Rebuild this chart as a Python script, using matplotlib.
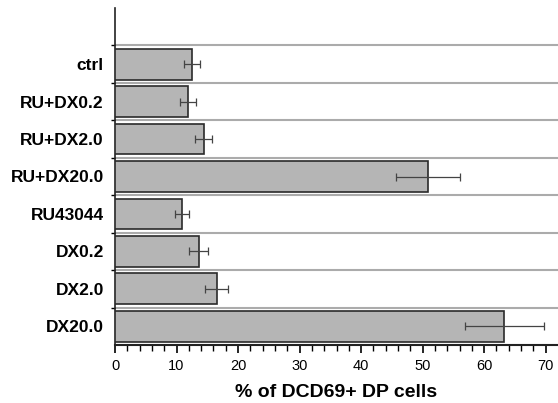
import matplotlib
matplotlib.use("Agg")
import matplotlib.pyplot as plt
import numpy as np

plt.rcParams['font.family'] = ['Liberation Sans', 'DejaVu Sans']

categories = ["ctrl", "RU+DX0.2", "RU+DX2.0", "RU+DX20.0", "RU43044", "DX0.2", "DX2.0", "DX20.0"]
values = [12.5, 11.8, 14.4, 50.9, 10.9, 13.6, 16.5, 63.3]
errors = [1.3, 1.3, 1.4, 5.2, 1.2, 1.5, 1.8, 6.4]
xticks = [0, 10, 20, 30, 40, 50, 60, 70]

fig = plt.figure(figsize=(5.58, 4.03), dpi=100)
ax = fig.add_axes([115/558, 1-345/403, 443/558, 337/403])

n = len(categories)
ypos = np.arange(n)[::-1]  # ctrl at top

ax.barh(ypos, values, height=0.82, color="#b5b5b5", edgecolor="#2a2a2a", linewidth=1.2, zorder=3)
ax.errorbar(values, ypos, xerr=errors, fmt="none", ecolor="#444444", elinewidth=0.9,
            capsize=3, capthick=0.9, zorder=4)

bounds = np.arange(n) + 0.5
for b in bounds:
    ax.axhline(b, color="#ababab", linewidth=1.5, zorder=1)

ax.set_ylim(-0.5, n + 0.5)
ax.set_xlim(0, 72)

ax.set_yticks(ypos)
ax.set_yticklabels(categories, fontsize=12.5, fontweight="bold")
ax.tick_params(axis="y", which="major", length=0, pad=8)
ax.set_yticks(bounds, minor=True)
ax.tick_params(axis="y", which="minor", length=3, width=1, direction="out")

ax.set_xticks(xticks)
ax.set_xticklabels([str(t) for t in xticks], fontsize=10.5)
ax.set_xticks(np.arange(0, 72, 2), minor=True)
ax.tick_params(axis="x", which="major", length=6, width=1.2, direction="out", pad=4)
ax.tick_params(axis="x", which="minor", length=4, width=1, direction="out")

ax.set_xlabel("% of DCD69+ DP cells", fontsize=14, fontweight="bold", labelpad=8)

for s in ["top", "right"]:
    ax.spines[s].set_visible(False)
ax.spines["left"].set_linewidth(1.2)
ax.spines["bottom"].set_linewidth(1.5)
ax.spines["left"].set_color("#222222")
ax.spines["bottom"].set_color("#222222")

fig.savefig("out.png", dpi=100)
